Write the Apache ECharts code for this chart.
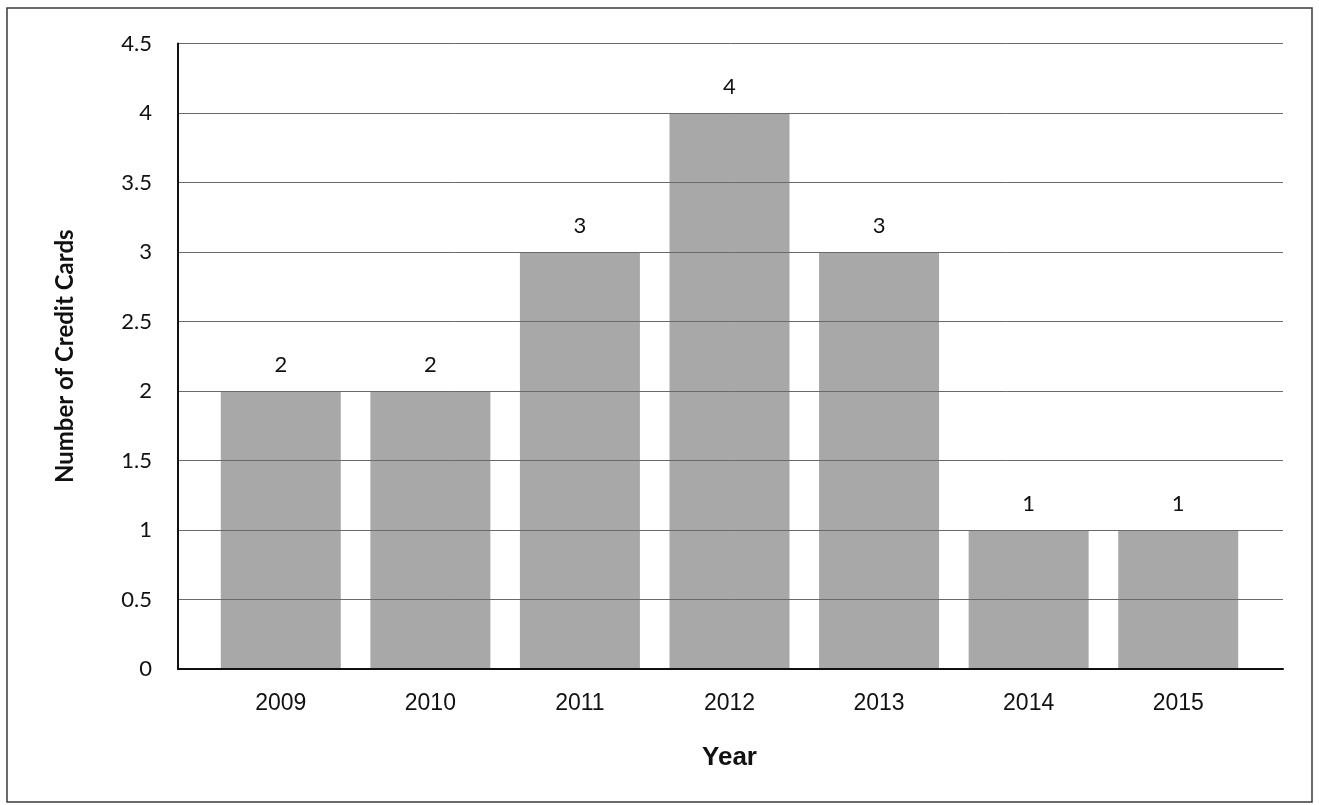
<!DOCTYPE html>
<html>
<head>
<meta charset="utf-8">
<script src="https://cdn.jsdelivr.net/npm/echarts@6/dist/echarts.min.js"></script>
<style>
html,body{margin:0;padding:0;background:#fff;}
#chart{width:1319px;height:805px;}
</style>
</head>
<body>
<div id="chart"></div>
<script>
const years = ['2009', '2010', '2011', '2012', '2013', '2014', '2015'];
const creditCards = [2, 2, 3, 4, 3, 1, 1];
const yTickMin = 0;
const yTickMax = 4.5;
const yTickStep = 0.5;

const chart = echarts.init(document.getElementById('chart'), null, {renderer: 'canvas'});
const calibriLike = 'Lato, "Open Sans", sans-serif';
const arialLike = '"Liberation Sans", Arial, sans-serif';

const option = {
  backgroundColor: '#ffffff',
  animation: false,
  graphic: [{
    type: 'rect',
    shape: {x: 7, y: 8, width: 1305, height: 794},
    style: {fill: 'none', stroke: '#3a3a3a', lineWidth: 1.5},
    silent: true
  }],
  grid: [
    {left: 178, right: 36, top: 43.5, bottom: 136, containLabel: false},
    {left: 206, right: 66, top: 43.5, bottom: 136, containLabel: false}
  ],
  xAxis: [
    {
      gridIndex: 0, type: 'category', data: years, z: 5,
      axisLine: {show: true, lineStyle: {color: '#111', width: 2}},
      axisTick: {show: false}, axisLabel: {show: false}, splitLine: {show: false}
    },
    {
      gridIndex: 1, type: 'category', data: years,
      axisLine: {show: false}, axisTick: {show: false},
      axisLabel: {margin: 23, fontFamily: arialLike, fontSize: 23, color: '#111'},
      name: 'Year', nameLocation: 'middle', nameGap: 76,
      nameTextStyle: {fontFamily: arialLike, fontSize: 26, fontWeight: 'bold', color: '#111'}
    }
  ],
  yAxis: [
    {
      gridIndex: 0, type: 'value', min: yTickMin, max: yTickMax, interval: yTickStep, z: 5,
      axisLine: {show: true, lineStyle: {color: '#111', width: 2}},
      axisTick: {show: false},
      axisLabel: {margin: 26, fontFamily: calibriLike, fontSize: 22, color: '#111'},
      splitLine: {show: true, lineStyle: {color: '#6a6a6a', width: 1}},
      name: 'Number of Credit Cards', nameLocation: 'middle', nameGap: 101,
      nameTextStyle: {fontFamily: calibriLike, fontSize: 24, fontWeight: 'bold', color: '#111'}
    },
    {
      gridIndex: 1, type: 'value', min: yTickMin, max: yTickMax, interval: yTickStep,
      show: false, splitLine: {show: false}
    }
  ],
  series: [{
    type: 'bar',
    xAxisIndex: 1, yAxisIndex: 1,
    data: creditCards,
    barWidth: 120,
    itemStyle: {color: '#a8a8a8'},
    label: {
      show: true, position: 'top', distance: 15,
      fontFamily: calibriLike, fontSize: 22, color: '#111'
    }
  }]
};
chart.setOption(option);
</script>
</body>
</html>
